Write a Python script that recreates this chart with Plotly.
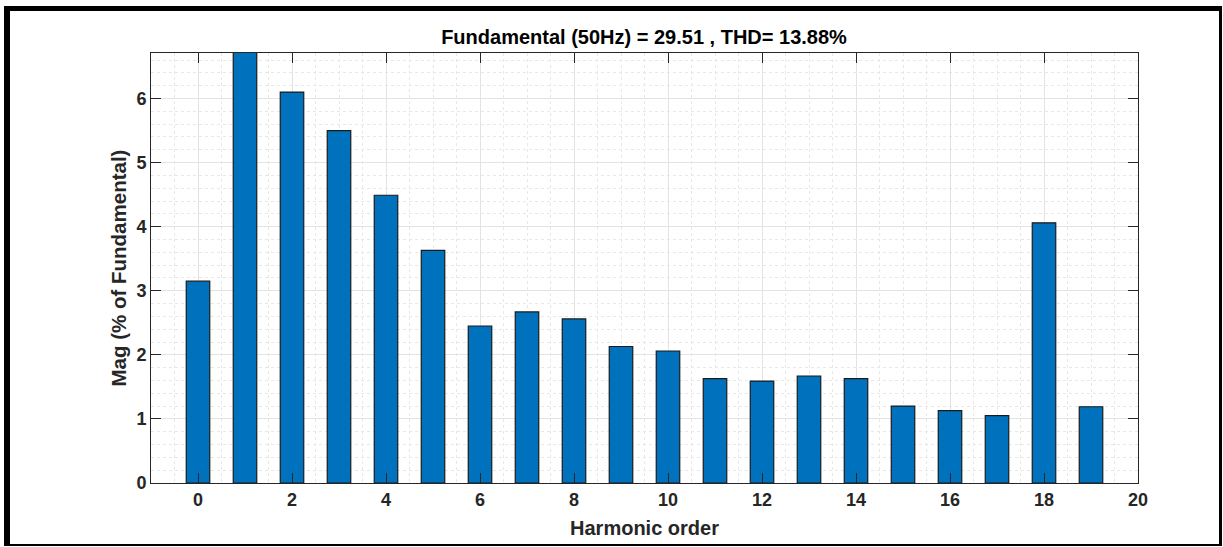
import plotly.graph_objects as go

harmonic_order = list(range(20))
magnitude = [3.15, 6.95, 6.10, 5.50, 4.49, 3.63, 2.45, 2.67, 2.56, 2.13,
             2.06, 1.63, 1.59, 1.67, 1.63, 1.20, 1.13, 1.05, 4.06, 1.19]
x_ticks = list(range(0, 21, 2))
y_ticks = list(range(0, 7))

title_text = "Fundamental (50Hz) = 29.51 , THD= 13.88%"
x_title = "Harmonic order"
y_title = "Mag (% of Fundamental)"

W, H = 1223, 547
L, R, T, B = 151, 1138, 53, 483

def px(x):
    return (x - L) / (R - L)

def py(y):
    return (B - y) / (B - T)

fig = go.Figure()
fig.add_trace(go.Bar(
    x=harmonic_order, y=magnitude, width=0.5,
    marker=dict(color="#0072BD", line=dict(color="#1a1a1a", width=1.2)),
))

font_family = "Liberation Sans, Arial, sans-serif"
axis_common = dict(
    showline=True, linecolor="#262626", linewidth=1, mirror="ticks",
    ticks="inside", ticklen=10, tickwidth=1, tickcolor="#262626",
    showgrid=True, gridcolor="#e3e3e3", gridwidth=1, zeroline=False,
    tickfont=dict(family=font_family, size=18, color="#262626"),
)

fig.update_layout(
    width=W, height=H,
    margin=dict(l=L, r=W - R, t=T, b=H - B),
    paper_bgcolor="white", plot_bgcolor="white",
    showlegend=False,
    font=dict(family=font_family, color="#262626"),
    title=dict(text="<b>" + title_text + "</b>", x=644 / W,
               xanchor="center", y=1 - 37 / H, yanchor="middle",
               font=dict(family=font_family, size=20, color="#000000")),
    xaxis=dict(range=[-1, 20], tickvals=x_ticks,
               ticktext=["<b>%d</b>" % v for v in x_ticks],
               minor=dict(dtick=0.5, tick0=0, showgrid=True, gridcolor="#e8e8e8",
                          griddash="dot", ticklen=0),
               title=dict(text="<b>" + x_title + "</b>", standoff=12,
                          font=dict(family=font_family, size=20, color="#262626")),
               **axis_common),
    yaxis=dict(range=[0, 6.71], tickvals=y_ticks,
               ticktext=["<b>%d</b>" % v for v in y_ticks],
               minor=dict(dtick=0.2, tick0=0, showgrid=True, gridcolor="#e8e8e8",
                          griddash="dot", ticklen=0),
               title=dict(text="<b>" + y_title + "</b>", standoff=4,
                          font=dict(family=font_family, size=20.5, color="#262626")),
               **axis_common),
)

# outer black frame
frame = [
    (4, 6, 10, 546),     # left
    (4, 6, 1222, 11),    # top
    (1219, 6, 1222, 545),  # right
    (4, 544, 1222, 546),   # bottom
]
for x0, y0, x1, y1 in frame:
    fig.add_shape(type="rect", xref="paper", yref="paper",
                  x0=px(x0), x1=px(x1), y0=py(y0), y1=py(y1),
                  fillcolor="black", line=dict(width=0), layer="above")

fig.write_html("out.html", config={"displayModeBar": False},
               post_script="document.body.style.margin='0';document.body.style.overflow='hidden';")
